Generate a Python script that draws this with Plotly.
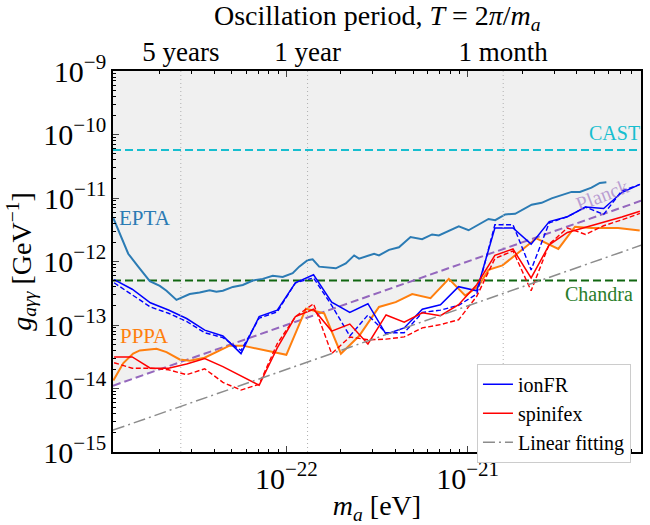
import numpy as np
import plotly.graph_objects as go

# ---------------- data (log10 values) ----------------
log_m_grid = [-22.95, -22.85, -22.75, -22.65, -22.55, -22.45, -22.35, -22.25, -22.15, -22.05,
              -21.95, -21.85, -21.75, -21.65, -21.55, -21.45, -21.35, -21.25, -21.15, -21.05,
              -20.95, -20.85, -20.75, -20.65, -20.55, -20.45, -20.35, -20.25, -20.15, -20.05]

ionfr_solid = [-12.285, -12.437, -12.650, -12.764, -12.898, -13.081, -13.173, -13.451, -12.868, -12.766,
               -12.335, -12.209, -12.640, -12.802, -12.665, -13.147, -13.046, -12.751, -12.681, -12.396,
               -12.461, -11.472, -11.472, -11.726, -11.371, -11.295, -11.143, -11.167, -10.914, -10.786]
ionfr_dashed = [-12.335, -12.525, -12.716, -12.815, -12.944, -13.122, -13.198, -13.401, -12.893, -12.792,
                -12.335, -12.259, -12.690, -13.173, -12.842, -13.122, -13.122, -12.802, -12.766, -12.690,
                -12.513, -11.421, -11.421, -12.132, -11.391, -11.295, -11.143, -11.258, -10.888, -10.786]
spinifex_solid = [-13.503, -13.503, -13.680, -13.680, -13.614, -13.527, -13.655, -13.797, -13.949, -13.360,
                  -12.868, -12.751, -13.096, -12.985, -13.299, -12.842, -12.955, -12.807, -12.853, -12.681,
                  -12.365, -11.904, -11.802, -12.259, -11.737, -11.543, -11.462, -11.391, -11.300, -11.208]
spinifex_dashed = [-13.594, -13.680, -13.680, -13.705, -13.782, -13.690, -13.903, -14.025, -13.934, -13.294,
                   -12.868, -12.665, -13.451, -13.188, -13.233, -13.223, -13.188, -13.046, -12.994, -12.918,
                   -12.548, -11.954, -11.832, -12.461, -11.726, -11.472, -11.574, -11.437, -11.345, -11.243]

pppa_log_m = [-22.954, -22.899, -22.845, -22.808, -22.716, -22.661, -22.588, -22.533, -22.451, -22.313,
              -22.240, -22.112, -22.000, -21.892, -21.791, -21.699, -21.599, -21.489, -21.397, -21.306,
              -21.205, -21.104, -21.013, -20.940, -20.885, -20.808, -20.621, -20.500, -20.408, -20.317,
              -20.170, -20.051]
pppa_log_g = [-13.873, -13.599, -13.451, -13.401, -13.375, -13.427, -13.543, -13.564, -13.515, -13.325,
              -13.325, -13.401, -13.469, -12.742, -12.818, -13.451, -13.173, -12.716, -12.640, -12.513,
              -12.579, -12.274, -12.538, -12.385, -12.132, -12.061, -11.635, -11.802, -11.452, -11.472,
              -11.472, -11.513]

epta_log_m = [-22.954, -22.918, -22.872, -22.817, -22.753, -22.698, -22.661, -22.606, -22.570, -22.533,
              -22.478, -22.423, -22.386, -22.350, -22.295, -22.240, -22.185, -22.130, -22.075, -22.020,
              -21.965, -21.929, -21.883, -21.855, -21.819, -21.782, -21.727, -21.672, -21.626, -21.599,
              -21.544, -21.516, -21.489, -21.434, -21.379, -21.315, -21.251, -21.196, -21.159, -21.104,
              -21.049, -20.995, -20.940, -20.885, -20.848, -20.793, -20.738, -20.647, -20.592, -20.537,
              -20.482, -20.427, -20.381, -20.317, -20.271, -20.235]
epta_log_g = [-11.319, -11.574, -11.878, -12.081, -12.309, -12.385, -12.461, -12.605, -12.563, -12.513,
              -12.487, -12.452, -12.477, -12.461, -12.400, -12.370, -12.300, -12.274, -12.224, -12.244,
              -12.183, -12.081, -11.980, -11.965, -12.081, -12.096, -12.107, -12.030, -11.904, -11.954,
              -11.904, -11.878, -11.904, -11.817, -11.776, -11.615, -11.650, -11.574, -11.589, -11.523,
              -11.447, -11.508, -11.421, -11.330, -11.350, -11.258, -11.249, -11.106, -11.076, -11.006,
              -10.954, -10.904, -10.904, -10.838, -10.762, -10.751]

cast_log_g = -10.244
chandra_log_g = -12.30
planck_log_m = [-22.956, -20.044]
planck_log_g = [-13.956, -11.044]
linfit_log_m = [-22.956, -20.044]
linfit_log_g = [-14.656, -11.744]

period_labels = ["5 years", "1 year", "1 month"]
period_log_m = [-22.582, -21.883, -20.804]

x_range_log = [-22.956, -20.044]
y_range_log = [-15.0, -9.0]

# ---------------- helpers ----------------
def p10(a):
    return np.power(10.0, np.asarray(a, dtype=float))

FONT = "Liberation Serif"
fig = go.Figure()

# excluded region (grey): above min(Planck, PPPA)
lm_dense = np.linspace(x_range_log[0], x_range_log[1], 800)
lower = np.minimum(np.interp(lm_dense, pppa_log_m, pppa_log_g),
                   np.interp(lm_dense, planck_log_m, planck_log_g))
poly_x = np.concatenate([lm_dense, lm_dense[::-1]])
poly_y = np.concatenate([lower, np.full_like(lm_dense, y_range_log[1])])
fig.add_trace(go.Scatter(x=p10(poly_x), y=p10(poly_y), fill="toself", fillcolor="#f0f0f0",
                         line=dict(width=0), mode="lines", hoverinfo="skip", showlegend=False))

# period reference lines on top axis
for lm in period_log_m:
    fig.add_trace(go.Scatter(x=p10([lm, lm]), y=p10(y_range_log), xaxis="x2", mode="lines",
                             line=dict(color="#b0b0b0", width=1, dash="1px,3px"), showlegend=False))

xs = p10(x_range_log)
fig.add_trace(go.Scatter(x=xs, y=p10([cast_log_g] * 2), mode="lines",
                         line=dict(color="#17becf", width=2, dash="8px,4px"), showlegend=False))
fig.add_trace(go.Scatter(x=xs, y=p10([chandra_log_g] * 2), mode="lines",
                         line=dict(color="#116611", width=2, dash="8px,4px"), showlegend=False))
fig.add_trace(go.Scatter(x=p10(planck_log_m), y=p10(planck_log_g), mode="lines",
                         line=dict(color="#9467bd", width=2, dash="8px,4px"), showlegend=False))
fig.add_trace(go.Scatter(x=p10(epta_log_m), y=p10(epta_log_g), mode="lines",
                         line=dict(color="#2b7bb4", width=2), showlegend=False))
fig.add_trace(go.Scatter(x=p10(pppa_log_m), y=p10(pppa_log_g), mode="lines",
                         line=dict(color="#ff7f0e", width=2), showlegend=False))

grid = p10(log_m_grid)
fig.add_trace(go.Scatter(x=grid, y=p10(ionfr_dashed), mode="lines",
                         line=dict(color="#0000ff", width=1.4, dash="5px,2.5px"), showlegend=False))
fig.add_trace(go.Scatter(x=grid, y=p10(spinifex_dashed), mode="lines",
                         line=dict(color="#ff0000", width=1.4, dash="5px,2.5px"), showlegend=False))
fig.add_trace(go.Scatter(x=grid, y=p10(ionfr_solid), mode="lines", name="ionFR",
                         line=dict(color="#0000ff", width=1.5)))
fig.add_trace(go.Scatter(x=grid, y=p10(spinifex_solid), mode="lines", name="spinifex",
                         line=dict(color="#ff0000", width=1.5)))
fig.add_trace(go.Scatter(x=p10(linfit_log_m), y=p10(linfit_log_g), mode="lines", name="Linear fitting",
                         line=dict(color="#8c8c8c", width=1.5, dash="12px,4px,2px,4px")))

# ---------------- labels ----------------
def label(text, px, py, color, size=20, angle=0):
    fig.add_annotation(text=text, xref="paper", yref="paper", x=px, y=py, showarrow=False,
                       font=dict(family=FONT, size=size, color=color), textangle=angle,
                       xanchor="center", yanchor="middle")

label("EPTA", 0.0604, 0.614, "#2b7bb4", size=21)
label("PPPA", 0.0594, 0.305, "#ff7f0e", size=21)
label("CAST", 0.949, 0.836, "#17becf")
label("Chandra", 0.921, 0.414, "#2a7d2a")
label("Planck", 0.926, 0.675, "rgba(148,103,189,0.6)", angle=-21)
label("Oscillation period, <i>T</i> = 2<i>π</i>/<i>m</i><sub><i>a</i></sub>", 0.5, 1.14, "black", size=28)

axis_common = dict(type="log", showgrid=False, zeroline=False, linecolor="black", linewidth=2,
                   tickfont=dict(family=FONT, size=24, color="black"))

fig.update_layout(
    width=650, height=525,
    margin=dict(l=113, r=7, t=71, b=60),
    plot_bgcolor="white", paper_bgcolor="white",
    font=dict(family=FONT, color="black"),
    xaxis=dict(**axis_common, range=x_range_log, dtick=1, exponentformat="power",
               showexponent="all", mirror="ticks", ticks="inside", ticklen=6, tickwidth=1,
               minor=dict(ticks="inside", ticklen=3, dtick="D1", tickcolor="black"),
               title=dict(text="<i>m</i><sub><i>a</i></sub> [eV]",
                          font=dict(family=FONT, size=28), standoff=4)),
    xaxis2=dict(type="log", overlaying="x", side="top", range=x_range_log,
                tickvals=p10(period_log_m), ticktext=period_labels, ticks="", showline=False,
                showgrid=False, zeroline=False, ticklabelstandoff=4,
                tickfont=dict(family=FONT, size=27, color="black")),
    yaxis=dict(**axis_common, range=y_range_log, dtick=1, exponentformat="power",
               showexponent="all", mirror=True, ticks="inside", ticklen=6, tickwidth=1,
               minor=dict(ticks="inside", ticklen=3, dtick="D1", tickcolor="black"),
               title=dict(text="<i>g</i><sub><i>aγγ</i></sub> [GeV<sup>−1</sup>]",
                          font=dict(family=FONT, size=28), standoff=4)),
    legend=dict(x=0.981, y=-0.028, xanchor="right", yanchor="bottom",
                bgcolor="white", bordercolor="#cccccc", borderwidth=1,
                font=dict(family=FONT, size=20, color="black"), tracegroupgap=0),
    showlegend=True,
)

fig.write_html("out.html")
